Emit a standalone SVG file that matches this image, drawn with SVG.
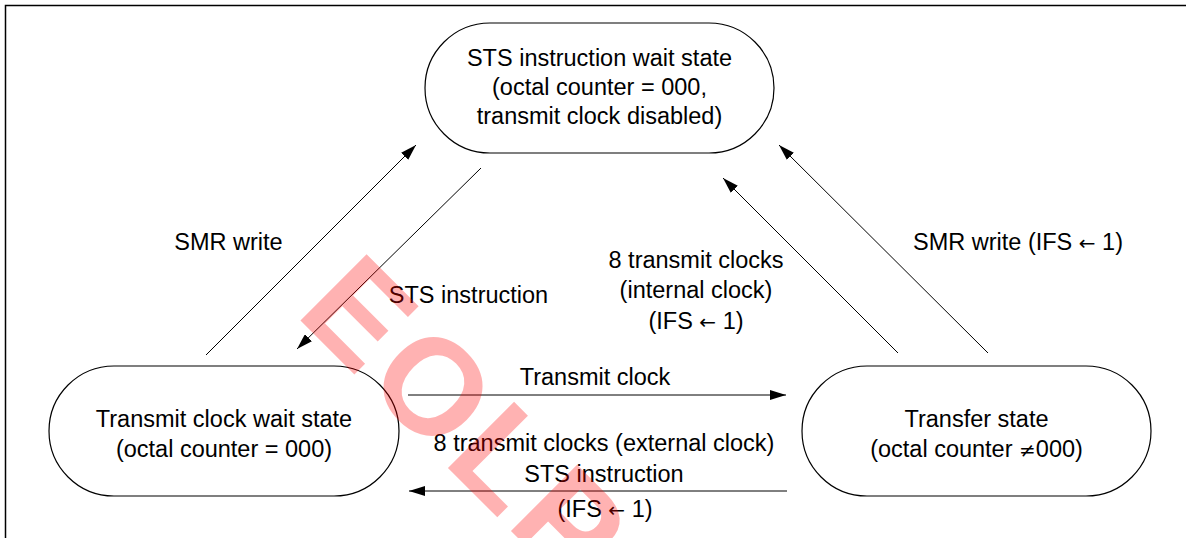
<svg xmlns="http://www.w3.org/2000/svg" width="1186" height="538" viewBox="0 0 1186 538">
<style>
.node{fill:#fff;stroke:#000;stroke-width:1.2}
.t{font-family:"Liberation Sans",Arial,sans-serif;font-size:23.5px;fill:#000;text-anchor:middle}
.s{font-family:"DejaVu Sans",sans-serif;font-size:20px}
.c{stroke:#000;stroke-width:1;fill:none;marker-end:url(#ah)}
.frame{stroke:#000;stroke-width:1.5;fill:none}
.wm{font-family:"Liberation Sans",Arial,sans-serif;font-size:136px;font-weight:bold;letter-spacing:6px;fill:#ff0000;fill-opacity:0.3}
</style>
<defs>
<marker id="ah" viewBox="0 0 16 10" refX="16" refY="5" markerWidth="16" markerHeight="10" markerUnits="userSpaceOnUse" orient="auto">
<path d="M0,0 L16,5 L0,10 z" fill="#000"/>
</marker>
</defs>
<rect width="1186" height="538" fill="#fff"/>
<path class="frame" d="M5.5,538 V5.5 H1186"/>
<g id="n-sts-wait">
<rect class="node" x="425" y="23" width="349" height="130" rx="65" ry="65"/>
<text class="t" x="599.5" y="66">STS instruction wait state</text>
<text class="t" x="599.5" y="95">(octal counter = 000,</text>
<text class="t" x="599.5" y="124">transmit clock disabled)</text>
</g>
<g id="n-clock-wait">
<rect class="node" x="49" y="366" width="350" height="130" rx="65" ry="65"/>
<text class="t" x="224" y="427">Transmit clock wait state</text>
<text class="t" x="224" y="457">(octal counter = 000)</text>
</g>
<g id="n-transfer">
<rect class="node" x="802" y="366" width="349" height="130" rx="65" ry="65"/>
<text class="t" x="976.5" y="427">Transfer state</text>
<text class="t" x="976.5" y="457">(octal counter <tspan class="s">≠</tspan>000)</text>
</g>
<g id="connectors">
<line class="c" x1="206" y1="355" x2="416" y2="145"/>
<line class="c" x1="481" y1="168" x2="297" y2="349"/>
<line class="c" x1="898" y1="353" x2="723" y2="178"/>
<line class="c" x1="988" y1="353" x2="779" y2="145"/>
<line class="c" x1="408" y1="395" x2="786" y2="395"/>
<line class="c" x1="787" y1="491" x2="409" y2="491"/>
</g>
<g id="labels">
<text class="t" x="228.5" y="250">SMR write</text>
<text class="t" x="468.5" y="303">STS instruction</text>
<text class="t" x="696" y="268">8 transmit clocks</text>
<text class="t" x="696" y="298">(internal clock)</text>
<text class="t" x="696" y="329">(IFS <tspan class="s">←</tspan> 1)</text>
<text class="t" x="1018" y="250">SMR write (IFS <tspan class="s">←</tspan> 1)</text>
<text class="t" x="595" y="385">Transmit clock</text>
<text class="t" x="604" y="451">8 transmit clocks (external clock)</text>
<text class="t" x="604" y="482">STS instruction</text>
<text class="t" x="605" y="517">(IFS <tspan class="s">←</tspan> 1)</text>
</g>
<text class="wm" transform="translate(294,314) rotate(45)">EOLP</text>
</svg>
